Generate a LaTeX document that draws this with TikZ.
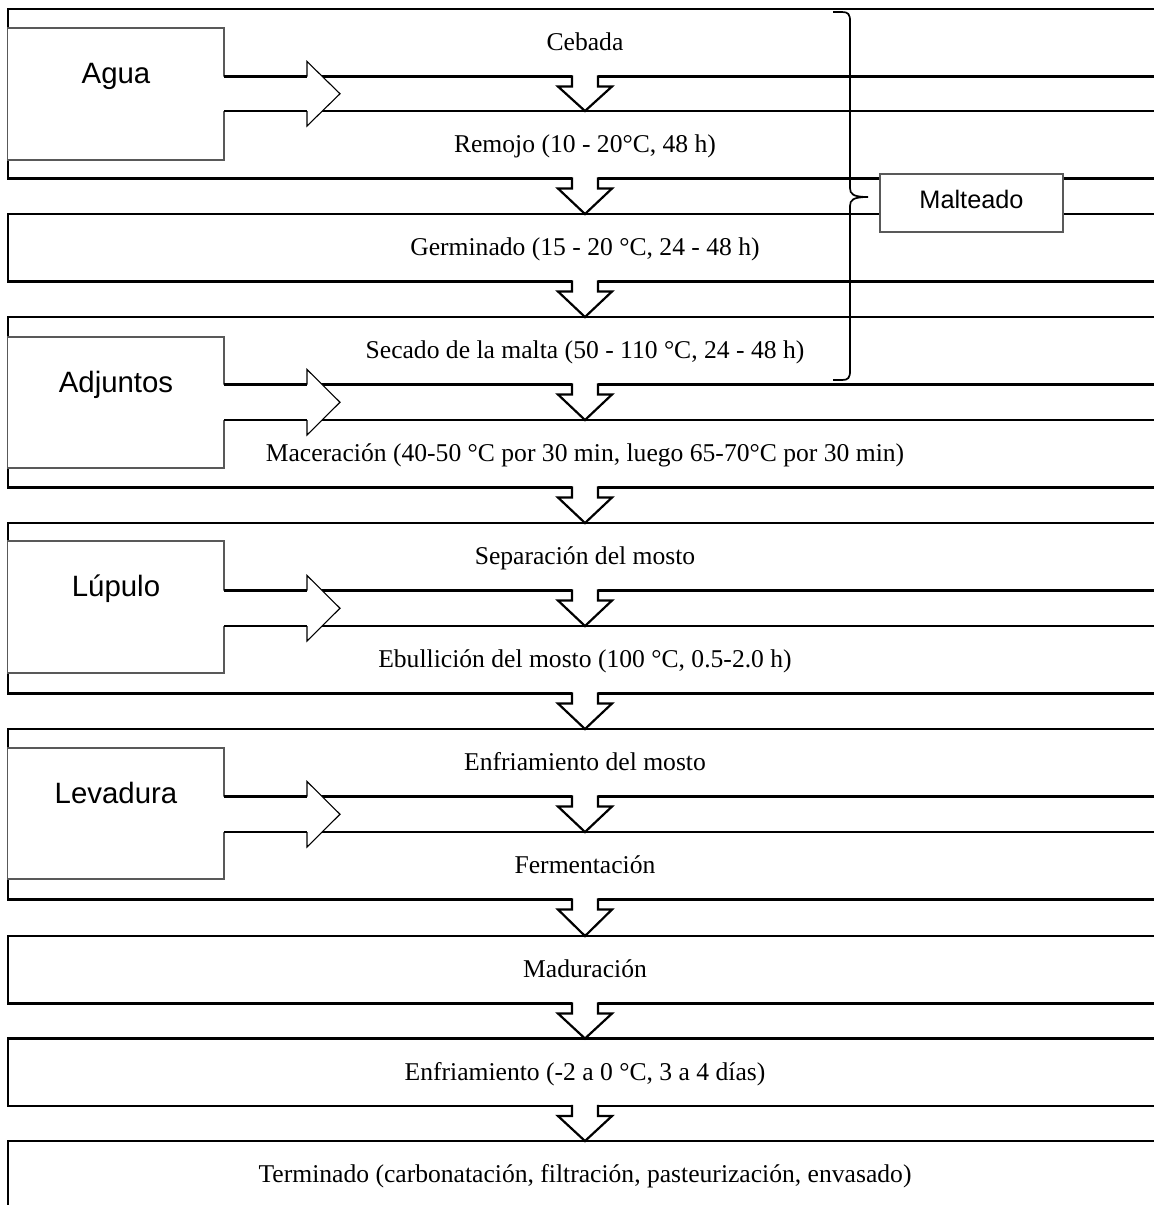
\documentclass[tikz,border=0pt]{standalone}
\usepackage{fontspec}
\setmainfont{Liberation Serif}
\newfontfamily\arialf{Liberation Sans}
\usetikzlibrary{calc}
\tikzset{
  stepbox/.style={draw, line width=2.2pt, minimum width=1154pt, minimum height=67.5pt,
    outer sep=0pt, inner sep=0pt, anchor=north, text height=20pt, text depth=4pt,
    font=\fontsize{25.6}{30}\selectfont},
  inbox/.style={draw=black!65, fill=white, line width=1.1pt, minimum width=216.5pt,
    outer sep=0pt, inner sep=0pt, anchor=north west},
  inlabel/.style={anchor=base, inner sep=0pt, font=\arialf\fontsize{29.4}{34}\selectfont},
  groupbox/.style={draw=black!65, fill=white, line width=1.1pt, minimum width=183pt,
    minimum height=58pt, outer sep=0pt, inner sep=0pt, text height=16.6pt, text depth=6pt,
    font=\arialf\fontsize{25.3}{30}\selectfont},
  arrline/.style={line width=2.2pt, line cap=rect, line join=miter},
  shaftline/.style={line width=2.2pt},
  headline/.style={line width=1.1pt, line join=miter},
  braceline/.style={line width=1.7pt}
}
\newcommand\downarr[2]{%
  \fill[white] ($(#1.south)+(-13,-1.4)$) -- ($(#1.south)+(-13,10)$) -- ($(#1.south)+(-27,10)$) -- (#2.north)
     -- ($(#1.south)+(27,10)$) -- ($(#1.south)+(13,10)$) -- ($(#1.south)+(13,-1.4)$) -- cycle;
  \draw[arrline] ($(#1.south)+(-13,0)$) -- ($(#1.south)+(-13,10)$) -- ($(#1.south)+(-27,10)$) -- (#2.north)
     -- ($(#1.south)+(27,10)$) -- ($(#1.south)+(13,10)$) -- ($(#1.south)+(13,0)$);
}
\newcommand\inarr[3]{%
  \coordinate (#1u) at (#1.east |- #2.south);
  \coordinate (#1l) at (#1.east |- #3.north);
  \coordinate (#1t) at ($(#1u)!0.5!(#1l)+(116,0)$);
  \fill[white] ($(#1u)+(-2,0)$) -- ($(#1u)+(83,0)$) -- ($(#1u)+(83,-15)$) -- (#1t)
     -- ($(#1l)+(83,15)$) -- ($(#1l)+(83,0)$) -- ($(#1l)+(-2,0)$) -- cycle;
  \draw[shaftline] (#1u) -- ($(#1u)+(83,0)$);
  \draw[shaftline] (#1l) -- ($(#1l)+(83,0)$);
  \draw[headline] ($(#1u)+(83,0)$) -- ($(#1u)+(83,-15)$) -- (#1t)
     -- ($(#1l)+(83,15)$) -- ($(#1l)+(83,0)$);
}
\begin{document}
\begin{tikzpicture}[x=1pt, y=-1pt]
\useasboundingbox[fill=white] (0,0) rectangle (1154,1205);
% process steps
\node[stepbox] (b1)  at (585,9)    {Cebada};
\node[stepbox] (b2)  at (585,111)  {Remojo (10 - 20°C, 48 h)};
\node[stepbox] (b3)  at (585,214)  {Germinado (15 - 20 °C, 24 - 48 h)};
\node[stepbox] (b4)  at (585,317)  {Secado de la malta (50 - 110 °C, 24 - 48 h)};
\node[stepbox] (b5)  at (585,420)  {Maceración (40-50 °C por 30 min, luego 65-70°C por 30 min)};
\node[stepbox] (b6)  at (585,523)  {Separación del mosto};
\node[stepbox] (b7)  at (585,626)  {Ebullición del mosto (100 °C, 0.5-2.0 h)};
\node[stepbox] (b8)  at (585,729)  {Enfriamiento del mosto};
\node[stepbox] (b9)  at (585,832)  {Fermentación};
\node[stepbox] (b10) at (585,936)  {Maduración};
\node[stepbox] (b11) at (585,1038.5) {Enfriamiento (-2 a 0 °C, 3 a 4 días)};
\node[stepbox] (b12) at (585,1141) {Terminado (carbonatación, filtración, pasteurización, envasado)};
% flow arrows
\downarr{b1}{b2}
\downarr{b2}{b3}
\downarr{b3}{b4}
\downarr{b4}{b5}
\downarr{b5}{b6}
\downarr{b6}{b7}
\downarr{b7}{b8}
\downarr{b8}{b9}
\downarr{b9}{b10}
\downarr{b10}{b11}
\downarr{b11}{b12}
% inputs
\node[inbox, minimum height=132pt] (inA) at (7.5,28) {};
\node[inlabel] (tA) at (116,83) {Agua};
\node[inbox, minimum height=131pt] (inB) at (7.5,337) {};
\node[inlabel] (tB) at (116,392) {Adjuntos};
\node[inbox, minimum height=132pt] (inC) at (7.5,541) {};
\node[inlabel] (tC) at (116,596) {Lúpulo};
\node[inbox, minimum height=131pt] (inD) at (7.5,748) {};
\node[inlabel] (tD) at (116,803) {Levadura};
\inarr{inA}{b1}{b2}
\inarr{inB}{b4}{b5}
\inarr{inC}{b6}{b7}
\inarr{inD}{b8}{b9}
% malting group
\node[groupbox] (malt) at (971.5,203) {Malteado};
\coordinate (brtop) at (833,12);
\coordinate (brbot) at (833,380);
\coordinate (brtip) at (868,197);
\draw[braceline] (brtop) -- (842,12) .. controls (848,12) and (850,14) .. (850,21) -- (850,188)
  .. controls (850,194) and (853,197) .. (brtip)
  .. controls (853,197) and (850,200) .. (850,206) -- (850,371)
  .. controls (850,378) and (848,380) .. (842,380) -- (brbot);
\end{tikzpicture}
\end{document}
